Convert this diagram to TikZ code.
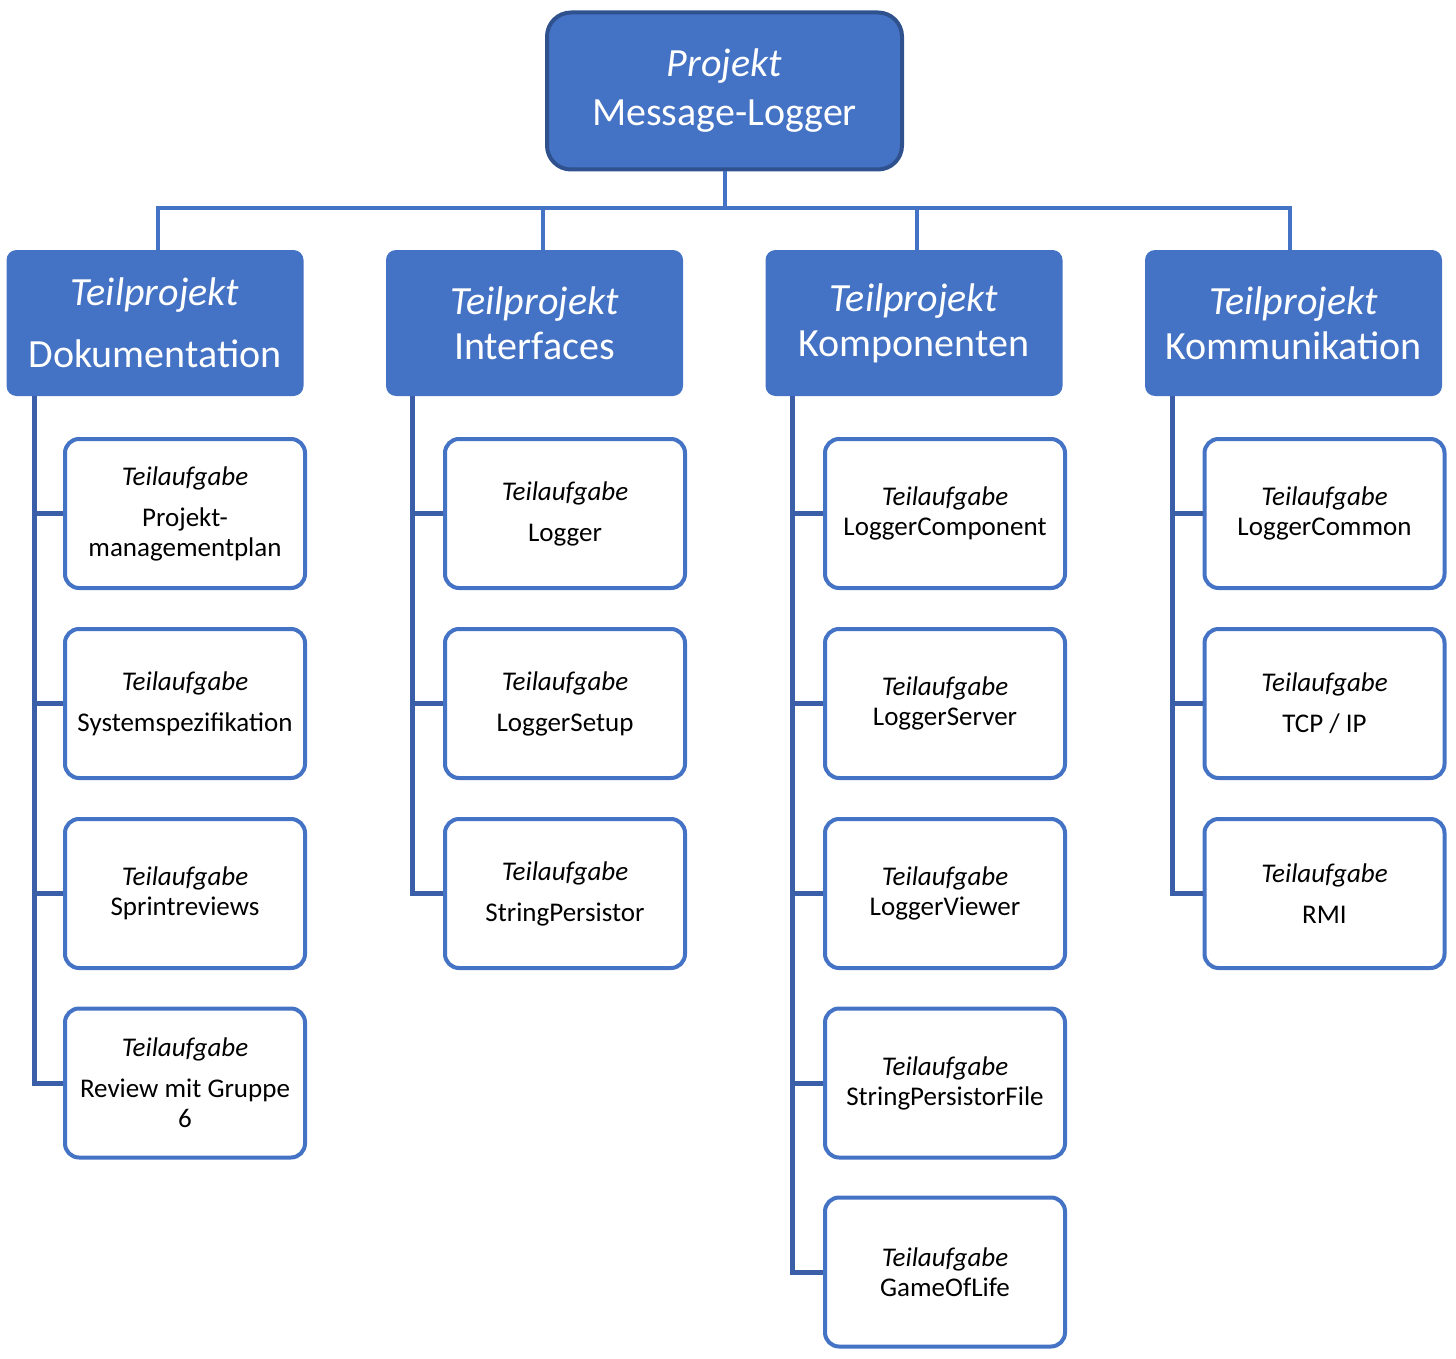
\documentclass[tikz,border=0pt]{standalone}
\usepackage{fontspec}
\setmainfont{Carlito}
\usepackage{tikz}
\usetikzlibrary{shapes,arrows}
\usetikzlibrary{calc}
\definecolor{boxblue}{HTML}{4472C4}
\definecolor{rimblue}{HTML}{2F528F}
\definecolor{sideblue}{HTML}{3A5FA8}

\begin{document}
\begin{tikzpicture}[x=1pt, y=-1pt,
	projekt/.style={draw=rimblue, line width=4pt, fill=boxblue, rounded corners=24pt, minimum width=355pt, minimum height=157pt, inner sep=0pt, text=white, align=center, font=\fontsize{40}{49}\selectfont},
	teilprojekt/.style={fill=boxblue, rounded corners=10pt, minimum width=297pt, minimum height=146pt, inner sep=0pt, text=white, align=center, font=\fontsize{40}{45}\selectfont},
	teilaufgabe/.style={draw=boxblue, line width=4pt, fill=white, rounded corners=14pt, minimum width=240pt, minimum height=149pt, inner sep=0pt, align=center, font=\fontsize{27}{30}\selectfont},
	topline/.style={boxblue, line width=4pt},
	sideline/.style={sideblue, line width=5pt}]
	\useasboundingbox (0,0) rectangle (1456,1359);
	
	\node[projekt] (pr) at (724.5,91) {\textit{Projekt}\\Message-Logger};
	
	\node[teilprojekt] (doku) at (155,323) {\textit{Teilprojekt}\\[17pt]Dokumentation};
	\node[teilprojekt] (intf) at (534.5,323) {\textit{Teilprojekt}\\Interfaces};
	\node[teilprojekt] (komp) at (914,323) {\textit{Teilprojekt}\\Komponenten};
	\node[teilprojekt] (komm) at (1293.5,323) {\textit{Teilprojekt}\\Kommunikation};
	
	\node[teilaufgabe] (doku1) at (185,513.5) {\textit{Teilaufgabe}\\[11pt]Projekt-\\managementplan};
	\node[teilaufgabe] (doku2) at (185,703.5) {\textit{Teilaufgabe}\\[11pt]Systemspezifikation};
	\node[teilaufgabe] (doku3) at (185,893.5) {\textit{Teilaufgabe}\\Sprintreviews};
	\node[teilaufgabe] (doku4) at (185,1083) {\textit{Teilaufgabe}\\[11pt]Review mit Gruppe\\6};
	
	\node[teilaufgabe] (intf1) at (565,513.5) {\textit{Teilaufgabe}\\[11pt]Logger};
	\node[teilaufgabe] (intf2) at (565,703.5) {\textit{Teilaufgabe}\\[11pt]LoggerSetup};
	\node[teilaufgabe] (intf3) at (565,893.5) {\textit{Teilaufgabe}\\[11pt]StringPersistor};
	
	\node[teilaufgabe] (komp1) at (945,513.5) {\textit{Teilaufgabe}\\LoggerComponent};
	\node[teilaufgabe] (komp2) at (945,703.5) {\textit{Teilaufgabe}\\LoggerServer};
	\node[teilaufgabe] (komp3) at (945,893.5) {\textit{Teilaufgabe}\\LoggerViewer};
	\node[teilaufgabe] (komp4) at (945,1083) {\textit{Teilaufgabe}\\StringPersistorFile};
	\node[teilaufgabe] (komp5) at (945,1272) {\textit{Teilaufgabe}\\GameOfLife};
	
	\node[teilaufgabe] (komm1) at (1324.5,513.5) {\textit{Teilaufgabe}\\LoggerCommon};
	\node[teilaufgabe] (komm2) at (1324.5,703.5) {\textit{Teilaufgabe}\\[11pt]TCP / IP};
	\node[teilaufgabe] (komm3) at (1324.5,893.5) {\textit{Teilaufgabe}\\[11pt]RMI};
	
	\coordinate (bus) at (0,208);
	\draw[topline] (pr.south) -- (pr.south |- bus);
	\draw[topline] ([xshift=3pt]doku.north) |- (pr.south |- bus) -| ([xshift=-3.5pt]komm.north);
	\draw[topline] ([xshift=8.5pt]intf.north) -- ([xshift=8.5pt]intf.north |- bus);
	\draw[topline] ([xshift=3pt]komp.north) -- ([xshift=3pt]komp.north |- bus);
	
	\coordinate (dokux) at ([xshift=28pt]doku.south west);
	\coordinate (intfx) at ([xshift=27pt]intf.south west);
	\coordinate (kompx) at ([xshift=27.5pt]komp.south west);
	\coordinate (kommx) at ([xshift=28pt]komm.south west);
	
	\draw[sideline] (dokux) |- (doku4.west);
	\draw[sideline] (dokux |- doku1.west) -- (doku1.west);
	\draw[sideline] (dokux |- doku2.west) -- (doku2.west);
	\draw[sideline] (dokux |- doku3.west) -- (doku3.west);
	
	\draw[sideline] (intfx) |- (intf3.west);
	\draw[sideline] (intfx |- intf1.west) -- (intf1.west);
	\draw[sideline] (intfx |- intf2.west) -- (intf2.west);
	
	\draw[sideline] (kompx) |- (komp5.west);
	\draw[sideline] (kompx |- komp1.west) -- (komp1.west);
	\draw[sideline] (kompx |- komp2.west) -- (komp2.west);
	\draw[sideline] (kompx |- komp3.west) -- (komp3.west);
	\draw[sideline] (kompx |- komp4.west) -- (komp4.west);
	
	\draw[sideline] (kommx) |- (komm3.west);
	\draw[sideline] (kommx |- komm1.west) -- (komm1.west);
	\draw[sideline] (kommx |- komm2.west) -- (komm2.west);
\end{tikzpicture}
\end{document}
